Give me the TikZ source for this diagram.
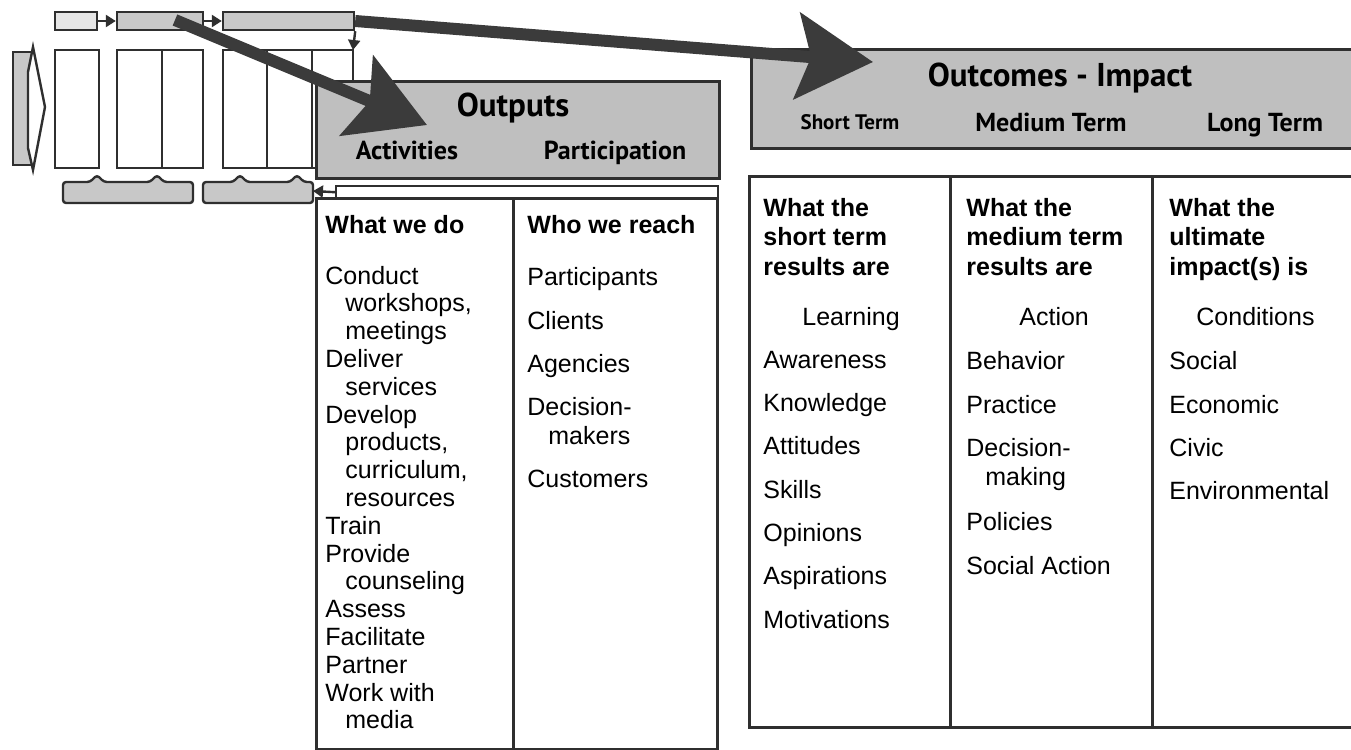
\documentclass[tikz,border=0pt]{standalone}
\usepackage{fontspec}
\setmainfont{Liberation Sans}
\newfontfamily\headfont{PT Sans}
\usetikzlibrary{arrows.meta, positioning, calc}
\definecolor{inkDark}{HTML}{2F2F2F}
\definecolor{barGray}{HTML}{BFBFBF}
\definecolor{thumbGray}{HTML}{C8C8C8}
\definecolor{thumbLight}{HTML}{E6E6E6}
\definecolor{arrowGray}{HTML}{3B3B3B}
\tikzset{
    thumbbox/.style={rectangle, draw=inkDark, fill=thumbGray, line width=1.2pt, inner sep=0pt},
    thumbcol/.style={draw=inkDark, fill=white, line width=1.2pt},
    smallarrow/.style={-{Triangle[length=5pt, width=6pt]}, line width=1.2pt, draw=inkDark},
    headbar/.style={rectangle, draw=inkDark, fill=barGray, line width=1.6pt, inner sep=0pt, anchor=north west},
    tablebox/.style={rectangle, draw=inkDark, fill=white, line width=1.5pt, inner sep=0pt, anchor=north west},
    divider/.style={draw=inkDark, line width=1.5pt},
    bighead/.style={font=\headfont\bfseries\fontsize{16.5}{18}\selectfont, inner sep=0pt, text height=11.6pt, text depth=0pt},
    subhead/.style={font=\headfont\bfseries\fontsize{13}{15}\selectfont, inner sep=0pt, text height=9.1pt, text depth=0pt},
    itemtext/.style={anchor=west, inner sep=0pt, text height=9pt, text depth=0pt, font=\fontsize{12.5}{14}\selectfont},
    itembold/.style={itemtext, font=\bfseries\fontsize{12.5}{14}\selectfont},
    bigarrow/.style={-{Stealth[length=38pt, width=43pt, inset=7pt]}, line width=6pt, draw=arrowGray},
}

\begin{document}
\begin{tikzpicture}[x=0.5pt, y=-0.5pt]
    \useasboundingbox (0,0) rectangle (1351,750);
    \clip (0,0) rectangle (1351,750);

    % small logic model in the corner
    \node[thumbbox, fill=thumbLight, minimum width=21pt, minimum height=9pt] (stepIn) at (76,21) {};
    \node[thumbbox, minimum width=43pt, minimum height=9pt] (stepOut) at (160,21) {};
    \node[thumbbox, minimum width=65.5pt, minimum height=9pt] (stepOutc) at (288.5,21) {};
    \draw[smallarrow] (stepIn) -- (stepOut);
    \draw[smallarrow] (stepOut) -- (stepOutc);

    \draw[thumbbox] (13,52) rectangle (32,165);
    \draw[draw=inkDark, fill=white, line width=1.2pt] (28,72) -- (33,47) -- (45,107) -- (33,170) -- (28,148) -- cycle;

    \draw[thumbcol] (55,50) rectangle (99,168);
    \draw[thumbcol] (117,50) rectangle (203,168) (162,50) -- (162,168);
    \draw[thumbcol] (223,50) rectangle (353,168) (267,50) -- (267,168) (312,50) -- (312,168);
    \coordinate (colTop) at (353,50);
    \draw[smallarrow] (stepOutc.south east) -- (colTop);

    % braces under the columns
    \draw[thumbbox, rounded corners=1.5pt] (63,203) -- (63,182) -- (90,182) -- (97,175) -- (104,182) -- (150,182)
        -- (157,175) -- (164,182) -- (193,182) -- (193,203) -- cycle;
    \draw[thumbbox, rounded corners=1.5pt] (203,203) -- (203,182) -- (233,182) -- (240,175) -- (247,182) -- (290,182)
        -- (297,175) -- (304,182) -- (313,182) -- (313,203) -- cycle;
    \coordinate (sumEnd) at (313,191);

    % Outputs
    \node[headbar, minimum width=201.5pt, minimum height=48.5pt] (outputsBar) at (315,80) {};
    \node[bighead] (outputsTitle) at (513,105) {Outputs};
    \node[subhead] (actTitle) at (407,150) {Activities};
    \node[subhead] (partTitle) at (615,150) {Participation};
    \node[tablebox, line width=1.2pt, minimum width=191pt, minimum height=6pt] (strip) at (335,185) {};
    \draw[smallarrow] (strip.west) -- (sumEnd);

    \node[tablebox, minimum width=200.5pt, minimum height=275.5pt] (outputsTable) at (315,197) {};
    \draw[divider] (513,197) -- (513,748);

    \node[itembold] (doHead) at (325,224) {What we do};
    \node[itembold] (reachHead) at (527,224) {Who we reach};
    \foreach \txt/\ind [count=\i] in {Conduct/0, {workshops,}/1, meetings/1, Deliver/0, services/1, Develop/0,
        {products,}/1, {curriculum,}/1, resources/1, Train/0, Provide/0, counseling/1, Assess/0,
        Facilitate/0, Partner/0, Work with/0, media/1}
        \node[itemtext] (act\i) at ({325+20*\ind}, {247.2+27.8*\i}) {\txt};
    \foreach \txt/\xx/\yy [count=\i] in {Participants/527/276, Clients/527/320, Agencies/527/363,
        Decision-/527/406, makers/548/435, Customers/527/478}
        \node[itemtext] (who\i) at (\xx,\yy) {\txt};

    % Outcomes - Impact
    \node[headbar, minimum width=305pt, minimum height=49.5pt] (outcomesBar) at (750,48) {};
    \node[bighead] (outcomesTitle) at (1060,75) {Outcomes - Impact};
    \node[subhead, font=\headfont\bfseries\fontsize{10.5}{12}\selectfont, text height=7.4pt] (shortTitle) at (850,122) {Short Term};
    \node[subhead] (mediumTitle) at (1051,122) {Medium Term};
    \node[subhead] (longTitle) at (1265,122) {Long Term};

    \node[tablebox, minimum width=306pt, minimum height=275.5pt] (outcomesTable) at (748,175) {};
    \draw[divider] (950,175) -- (950,726);
    \draw[divider] (1152,175) -- (1152,726);

    \foreach \lineA/\lineB/\lineC/\xx [count=\c] in {What the/short term/results are/763,
        What the/medium term/results are/966, What the/ultimate/impact(s) is/1169} {
        \node[itembold] (askA\c) at (\xx,207) {\lineA};
        \node[itembold] (askB\c) at (\xx,236.5) {\lineB};
        \node[itembold] (askC\c) at (\xx,266) {\lineC};
    }
    \node[itemtext] (learnHead) at (802,316) {Learning};
    \node[itemtext] (actionHead) at (1019,316) {Action};
    \node[itemtext] (condHead) at (1196,316) {Conditions};

    \foreach \txt [count=\i] in {Awareness, Knowledge, Attitudes, Skills, Opinions, Aspirations, Motivations}
        \node[itemtext] (learn\i) at (763, {316+43.3*\i}) {\txt};
    \foreach \txt/\xx/\yy [count=\i] in {Behavior/966/360, Practice/966/404, Decision-/966/447,
        making/985/476, Policies/966/521, Social Action/966/565}
        \node[itemtext] (action\i) at (\xx,\yy) {\txt};
    \foreach \txt/\yy [count=\i] in {Social/360, Economic/404, Civic/447, Environmental/490}
        \node[itemtext] (cond\i) at (1169,\yy) {\txt};

    % the two pointers out of the small model
    \coordinate (outStart) at (175,20);
    \coordinate (outTip) at (427,125);
    \coordinate (impTip) at (873,62);
    \draw[bigarrow] (outStart) -- (outTip);
    \draw[bigarrow] (stepOutc.east) -- (impTip);
\end{tikzpicture}
\end{document}
